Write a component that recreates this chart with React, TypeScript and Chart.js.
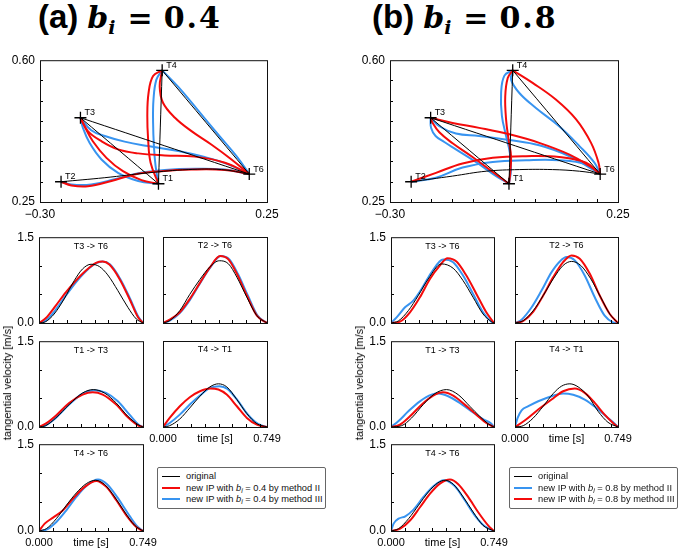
import React, { useEffect, useRef } from 'react';
import { Chart, registerables } from 'chart.js';
Chart.register(...registerables);

type Pt = [number, number];

const FONT = "'Liberation Sans', Arial, Helvetica, sans-serif";
const RED = '#f40b0b';
const BLUE = '#3894f0';
const BLACK = '#000000';

// ---------- target points ----------
const T_LABELS = ['T1', 'T2', 'T3', 'T4', 'T6'];
const T_X = [-0.013, -0.249, -0.202, -0.004, 0.207];
const T_Y = [0.295, 0.3, 0.458, 0.575, 0.319];

// ---------- axis ticks ----------
const TRAJ_X_LABELS = [-0.3, 0.25];
const TRAJ_Y_LABELS = [0.25, 0.6];
const TRAJ_X_MINOR = [-0.25, -0.2, -0.15, -0.1, -0.05, 0, 0.05, 0.1, 0.15, 0.2];
const TRAJ_Y_MINOR = [0.3, 0.35, 0.4, 0.45, 0.5, 0.55];
const VEL_X_LABEL_POS = [0, 0.3745, 0.749];
const VEL_X_LABELS = ['0.000', 'time [s]', '0.749'];
const VEL_Y_LABELS = [0, 1.5];
const VEL_X_MINOR = [0.1, 0.2, 0.3, 0.4, 0.5, 0.6, 0.7];
const VEL_Y_MINOR = [0.5, 1.0];

// ---------- (a) trajectories ----------
const A_T3T6_BLACK: Pt[] = [[-0.202, 0.458], [0.207, 0.319]];
const A_T3T6_BLUE: Pt[] = [[-0.202, 0.458], [-0.176, 0.427], [-0.143, 0.413], [-0.095, 0.399], [-0.038, 0.388], [0.035, 0.376], [0.099, 0.361], [0.156, 0.343], [0.207, 0.319]];
const A_T3T6_RED: Pt[] = [[-0.202, 0.458], [-0.184, 0.425], [-0.151, 0.4], [-0.111, 0.38], [-0.062, 0.37], [0.002, 0.365], [0.075, 0.362], [0.148, 0.347], [0.207, 0.319]];
const A_T2T6_BLACK: Pt[] = [[-0.249, 0.3], [-0.143, 0.31], [-0.038, 0.322], [0.059, 0.33], [0.14, 0.33], [0.207, 0.319]];
const A_T2T6_BLUE: Pt[] = [[-0.249, 0.3], [-0.224, 0.293], [-0.176, 0.293], [-0.119, 0.306], [-0.062, 0.321], [0.002, 0.329], [0.075, 0.332], [0.148, 0.33], [0.207, 0.319]];
const A_T2T6_RED: Pt[] = [[-0.249, 0.3], [-0.224, 0.291], [-0.184, 0.289], [-0.127, 0.302], [-0.071, 0.318], [-0.006, 0.326], [0.067, 0.33], [0.148, 0.329], [0.207, 0.319]];
const A_T1T3_BLACK: Pt[] = [[-0.013, 0.295], [-0.202, 0.458]];
const A_T1T3_BLUE: Pt[] = [[-0.013, 0.295], [-0.062, 0.302], [-0.111, 0.322], [-0.151, 0.355], [-0.18, 0.396], [-0.196, 0.433], [-0.202, 0.458]];
const A_T1T3_RED: Pt[] = [[-0.013, 0.295], [-0.054, 0.304], [-0.099, 0.326], [-0.139, 0.359], [-0.172, 0.4], [-0.192, 0.437], [-0.202, 0.458]];
const A_T4T1_BLACK: Pt[] = [[-0.004, 0.575], [-0.013, 0.295]];
const A_T4T1_BLUE: Pt[] = [[-0.004, 0.575], [-0.018, 0.552], [-0.025, 0.503], [-0.026, 0.446], [-0.024, 0.388], [-0.02, 0.339], [-0.013, 0.295]];
const A_T4T1_RED: Pt[] = [[-0.004, 0.575], [-0.026, 0.561], [-0.037, 0.519], [-0.04, 0.462], [-0.038, 0.404], [-0.032, 0.347], [-0.013, 0.295]];
const A_T4T6_BLACK: Pt[] = [[-0.004, 0.575], [0.207, 0.319]];
const A_T4T6_BLUE: Pt[] = [[-0.004, 0.575], [0.035, 0.534], [0.083, 0.476], [0.132, 0.416], [0.176, 0.363], [0.207, 0.319]];
const A_T4T6_RED: Pt[] = [[-0.004, 0.575], [-0.01, 0.536], [-0.002, 0.495], [0.027, 0.458], [0.067, 0.425], [0.115, 0.392], [0.164, 0.355], [0.207, 0.319]];

// ---------- (b) trajectories ----------
const B_T3T6_BLACK: Pt[] = [[-0.202, 0.458], [0.207, 0.319]];
const B_T3T6_RED: Pt[] = [[-0.202, 0.458], [-0.149, 0.445], [-0.085, 0.433], [-0.012, 0.417], [0.06, 0.396], [0.133, 0.367], [0.181, 0.339], [0.207, 0.319]];
const B_T3T6_BLUE: Pt[] = [[-0.202, 0.458], [-0.181, 0.437], [-0.141, 0.419], [-0.085, 0.413], [-0.012, 0.403], [0.06, 0.39], [0.133, 0.363], [0.181, 0.335], [0.207, 0.319]];
const B_T2T6_BLACK: Pt[] = [[-0.249, 0.3], [-0.149, 0.314], [-0.068, 0.326], [0.012, 0.33], [0.092, 0.33], [0.157, 0.326], [0.207, 0.319]];
const B_T2T6_RED: Pt[] = [[-0.249, 0.3], [-0.189, 0.322], [-0.125, 0.345], [-0.052, 0.359], [0.028, 0.363], [0.108, 0.361], [0.173, 0.347], [0.207, 0.319]];
const B_T2T6_BLUE: Pt[] = [[-0.249, 0.3], [-0.189, 0.31], [-0.125, 0.335], [-0.052, 0.349], [0.028, 0.353], [0.108, 0.353], [0.173, 0.343], [0.207, 0.319]];
const B_T1T3_BLACK: Pt[] = [[-0.013, 0.295], [-0.202, 0.458]];
const B_T1T3_RED: Pt[] = [[-0.013, 0.295], [-0.052, 0.324], [-0.101, 0.361], [-0.149, 0.395], [-0.181, 0.422], [-0.197, 0.445], [-0.202, 0.458]];
const B_T1T3_BLUE: Pt[] = [[-0.013, 0.295], [-0.044, 0.314], [-0.093, 0.349], [-0.141, 0.38], [-0.169, 0.398], [-0.19, 0.413], [-0.201, 0.433], [-0.202, 0.458]];
const B_T4T1_BLACK: Pt[] = [[-0.004, 0.575], [-0.013, 0.295]];
const B_T4T1_BLUE: Pt[] = [[-0.004, 0.575], [-0.024, 0.562], [-0.032, 0.519], [-0.03, 0.462], [-0.02, 0.413], [-0.011, 0.372], [-0.008, 0.33], [-0.013, 0.295]];
const B_T4T1_RED: Pt[] = [[-0.004, 0.575], [-0.016, 0.556], [-0.022, 0.511], [-0.02, 0.454], [-0.014, 0.404], [-0.008, 0.363], [-0.01, 0.322], [-0.013, 0.295]];
const B_T4T6_BLACK: Pt[] = [[-0.004, 0.575], [0.207, 0.319]];
const B_T4T6_RED: Pt[] = [[-0.004, 0.575], [0.044, 0.544], [0.1, 0.503], [0.149, 0.454], [0.185, 0.396], [0.203, 0.347], [0.207, 0.319]];
const B_T4T6_BLUE: Pt[] = [[-0.004, 0.575], [-0.008, 0.552], [0.012, 0.519], [0.052, 0.482], [0.108, 0.437], [0.157, 0.388], [0.193, 0.347], [0.207, 0.319]];

// ---------- (a) tangential velocity [t, v] ----------
const VA_T3T6_BLACK: Pt[] = [[0, 0], [0.048, 0.023], [0.109, 0.157], [0.181, 0.42], [0.254, 0.741], [0.314, 0.946], [0.375, 1.027], [0.435, 0.987], [0.495, 0.841], [0.568, 0.566], [0.64, 0.274], [0.701, 0.07], [0.749, 0]];
const VA_T3T6_RED: Pt[] = [[0, 0], [0.048, 0.082], [0.121, 0.304], [0.193, 0.537], [0.266, 0.741], [0.338, 0.916], [0.411, 1.051], [0.459, 1.074], [0.507, 1.021], [0.58, 0.771], [0.652, 0.42], [0.713, 0.099], [0.749, 0]];
const VA_T3T6_BLUE: Pt[] = [[0, 0], [0.048, 0.041], [0.121, 0.233], [0.193, 0.479], [0.266, 0.712], [0.338, 0.905], [0.411, 1.045], [0.459, 1.074], [0.512, 1.021], [0.585, 0.771], [0.657, 0.42], [0.718, 0.099], [0.749, 0]];
const VA_T2T6_BLACK: Pt[] = [[0, 0], [0.048, 0.041], [0.121, 0.216], [0.193, 0.5], [0.266, 0.76], [0.338, 0.98], [0.406, 1.086], [0.471, 1.033], [0.532, 0.8], [0.604, 0.449], [0.676, 0.128], [0.749, 0]];
const VA_T2T6_RED: Pt[] = [[0, 0], [0.048, 0.058], [0.121, 0.187], [0.193, 0.42], [0.266, 0.7], [0.338, 0.97], [0.411, 1.167], [0.471, 1.109], [0.532, 0.858], [0.604, 0.479], [0.676, 0.128], [0.749, 0]];
const VA_T2T6_BLUE: Pt[] = [[0, 0], [0.048, 0.041], [0.121, 0.175], [0.193, 0.4], [0.266, 0.69], [0.338, 0.96], [0.415, 1.167], [0.478, 1.109], [0.539, 0.858], [0.611, 0.479], [0.681, 0.128], [0.749, 0]];
const VA_T1T3_BLACK: Pt[] = [[0, 0], [0.048, 0.023], [0.121, 0.158], [0.217, 0.391], [0.314, 0.595], [0.391, 0.654], [0.471, 0.595], [0.556, 0.42], [0.64, 0.187], [0.713, 0.041], [0.749, 0]];
const VA_T1T3_RED: Pt[] = [[0, 0], [0.048, 0.058], [0.121, 0.198], [0.217, 0.42], [0.314, 0.566], [0.387, 0.607], [0.459, 0.566], [0.556, 0.391], [0.64, 0.169], [0.713, 0.029], [0.749, 0]];
const VA_T1T3_BLUE: Pt[] = [[0, 0], [0.048, 0.029], [0.121, 0.158], [0.217, 0.391], [0.314, 0.584], [0.399, 0.642], [0.483, 0.595], [0.568, 0.449], [0.652, 0.216], [0.718, 0.041], [0.749, 0]];
const VA_T4T1_BLACK: Pt[] = [[0, 0], [0.048, 0.023], [0.121, 0.14], [0.193, 0.333], [0.266, 0.537], [0.338, 0.7], [0.399, 0.753], [0.459, 0.7], [0.532, 0.479], [0.604, 0.233], [0.676, 0.058], [0.749, 0]];
const VA_T4T1_RED: Pt[] = [[0, 0], [0.048, 0.158], [0.121, 0.362], [0.193, 0.519], [0.266, 0.624], [0.338, 0.671], [0.399, 0.654], [0.459, 0.566], [0.532, 0.362], [0.604, 0.158], [0.676, 0.041], [0.749, 0]];
const VA_T4T1_BLUE: Pt[] = [[0, 0], [0.048, 0.07], [0.121, 0.216], [0.193, 0.391], [0.266, 0.549], [0.338, 0.683], [0.406, 0.712], [0.464, 0.665], [0.536, 0.467], [0.609, 0.222], [0.681, 0.058], [0.749, 0]];
const VA_T4T6_BLACK: Pt[] = [[0, 0], [0.053, 0.04], [0.125, 0.213], [0.197, 0.444], [0.269, 0.658], [0.341, 0.819], [0.408, 0.877], [0.473, 0.802], [0.545, 0.589], [0.617, 0.329], [0.689, 0.098], [0.749, 0]];
const VA_T4T6_RED: Pt[] = [[0, 0], [0.041, 0.127], [0.101, 0.231], [0.173, 0.358], [0.245, 0.56], [0.329, 0.762], [0.413, 0.866], [0.485, 0.762], [0.557, 0.531], [0.629, 0.271], [0.701, 0.069], [0.749, 0]];
const VA_T4T6_BLUE: Pt[] = [[0, 0], [0.053, 0.023], [0.125, 0.156], [0.197, 0.358], [0.269, 0.589], [0.346, 0.79], [0.425, 0.889], [0.49, 0.808], [0.562, 0.589], [0.634, 0.329], [0.701, 0.098], [0.749, 0]];

// ---------- (b) tangential velocity [t, v] ----------
const VB_T3T6_BLACK: Pt[] = [[0, 0], [0.053, 0.035], [0.126, 0.216], [0.198, 0.479], [0.271, 0.77], [0.367, 1.033], [0.452, 0.957], [0.524, 0.741], [0.597, 0.449], [0.669, 0.158], [0.73, 0.023], [0.749, 0]];
const VB_T3T6_BLUE: Pt[] = [[0, 0], [0.041, 0.099], [0.102, 0.274], [0.162, 0.391], [0.222, 0.595], [0.295, 0.887], [0.379, 1.109], [0.452, 1.062], [0.524, 0.829], [0.597, 0.508], [0.669, 0.187], [0.73, 0.023], [0.749, 0]];
const VB_T3T6_RED: Pt[] = [[0, 0], [0.065, 0.023], [0.138, 0.187], [0.21, 0.449], [0.283, 0.77], [0.355, 1.004], [0.411, 1.132], [0.476, 1.074], [0.548, 0.829], [0.621, 0.508], [0.693, 0.187], [0.749, 0]];
const VB_T2T6_BLACK: Pt[] = [[0, 0], [0.06, 0.041], [0.133, 0.216], [0.205, 0.479], [0.278, 0.77], [0.35, 1.004], [0.411, 1.074], [0.478, 1.004], [0.551, 0.77], [0.623, 0.449], [0.689, 0.158], [0.749, 0]];
const VB_T2T6_BLUE: Pt[] = [[0, 0], [0.048, 0.058], [0.121, 0.274], [0.193, 0.566], [0.266, 0.887], [0.326, 1.074], [0.375, 1.15], [0.435, 1.092], [0.507, 0.829], [0.58, 0.449], [0.652, 0.128], [0.713, 0.012], [0.749, 0]];
const VB_T2T6_RED: Pt[] = [[0, 0], [0.06, 0.035], [0.133, 0.198], [0.205, 0.479], [0.278, 0.8], [0.35, 1.062], [0.411, 1.179], [0.471, 1.121], [0.544, 0.858], [0.616, 0.479], [0.689, 0.158], [0.749, 0]];
const VB_T1T3_BLACK: Pt[] = [[0, 0], [0.077, 0.023], [0.15, 0.158], [0.234, 0.391], [0.319, 0.584], [0.404, 0.654], [0.488, 0.566], [0.573, 0.362], [0.645, 0.187], [0.706, 0.058], [0.749, 0]];
const VB_T1T3_BLUE: Pt[] = [[0, 0], [0.053, 0.099], [0.126, 0.274], [0.21, 0.449], [0.295, 0.566], [0.343, 0.584], [0.416, 0.537], [0.5, 0.42], [0.585, 0.274], [0.669, 0.14], [0.73, 0.058], [0.749, 0]];
const VB_T1T3_RED: Pt[] = [[0, 0], [0.065, 0.041], [0.138, 0.187], [0.222, 0.391], [0.307, 0.549], [0.379, 0.607], [0.452, 0.549], [0.536, 0.391], [0.621, 0.216], [0.693, 0.07], [0.749, 0]];
const VB_T4T1_BLACK: Pt[] = [[0, 0], [0.06, 0.023], [0.133, 0.158], [0.205, 0.362], [0.278, 0.584], [0.338, 0.712], [0.399, 0.753], [0.459, 0.7], [0.532, 0.537], [0.604, 0.274], [0.676, 0.082], [0.749, 0]];
const VB_T4T1_BLUE: Pt[] = [[0, 0], [0.019, 0.158], [0.048, 0.292], [0.097, 0.362], [0.169, 0.449], [0.266, 0.537], [0.35, 0.584], [0.423, 0.561], [0.507, 0.479], [0.592, 0.333], [0.676, 0.158], [0.725, 0.058], [0.749, 0]];
const VB_T4T1_RED: Pt[] = [[0, 0], [0.073, 0.117], [0.169, 0.304], [0.266, 0.479], [0.35, 0.624], [0.435, 0.671], [0.507, 0.595], [0.58, 0.42], [0.652, 0.216], [0.713, 0.07], [0.749, 0]];
const VB_T4T6_BLACK: Pt[] = [[0, 0], [0.055, 0.04], [0.128, 0.213], [0.2, 0.444], [0.272, 0.675], [0.34, 0.831], [0.393, 0.877], [0.453, 0.808], [0.525, 0.589], [0.597, 0.329], [0.669, 0.098], [0.749, 0]];
const VB_T4T6_BLUE: Pt[] = [[0, 0], [0.019, 0.127], [0.055, 0.213], [0.104, 0.254], [0.164, 0.369], [0.236, 0.588], [0.308, 0.773], [0.385, 0.877], [0.465, 0.773], [0.537, 0.531], [0.609, 0.271], [0.682, 0.081], [0.749, 0]];
const VB_T4T6_RED: Pt[] = [[0, 0], [0.067, 0.04], [0.14, 0.185], [0.212, 0.415], [0.284, 0.646], [0.356, 0.819], [0.429, 0.889], [0.489, 0.808], [0.561, 0.589], [0.633, 0.329], [0.706, 0.098], [0.749, 0]];

interface PanelSpec {
  box: [number, number, number, number];
  kind: 'traj' | 'vel';
  title?: string;
  black: Pt[][];
  red: Pt[][];
  blue: Pt[][];
  showX?: boolean;
  showY?: boolean;
}

const PAD_L = 44, PAD_T = 12, PAD_R = 24, PAD_B = 24;

function makeDecor(spec: PanelSpec) {
  return {
    id: 'decor',
    afterDatasetsDraw(chart: any) {
      const { ctx, chartArea: a, scales } = chart;
      const xs = scales.x, ys = scales.y;
      const isTraj = spec.kind === 'traj';
      const xm = isTraj ? TRAJ_X_MINOR : VEL_X_MINOR;
      const ym = isTraj ? TRAJ_Y_MINOR : VEL_Y_MINOR;
      ctx.save();
      ctx.strokeStyle = '#000';
      ctx.lineWidth = 1;
      ctx.beginPath();
      xm.forEach((v) => {
        const px = Math.round(xs.getPixelForValue(v)) + 0.5;
        ctx.moveTo(px, a.bottom);
        ctx.lineTo(px, a.bottom - 3);
      });
      ym.forEach((v) => {
        const py = Math.round(ys.getPixelForValue(v)) + 0.5;
        ctx.moveTo(a.left, py);
        ctx.lineTo(a.left + 3, py);
      });
      ctx.stroke();
      ctx.strokeStyle = '#111';
      ctx.strokeRect(a.left + 0.5, a.top + 0.5, a.right - a.left, a.bottom - a.top);
      ctx.fillStyle = '#000';
      if (spec.title) {
        ctx.font = `9px ${FONT}`;
        ctx.textAlign = 'center';
        ctx.textBaseline = 'middle';
        ctx.fillText(spec.title, (a.left + a.right) / 2, a.top + 9);
      }
      if (isTraj) {
        ctx.font = `9px ${FONT}`;
        ctx.textAlign = 'left';
        ctx.textBaseline = 'middle';
        T_LABELS.forEach((lab, i) => {
          ctx.fillText(lab, xs.getPixelForValue(T_X[i]) + 4, ys.getPixelForValue(T_Y[i]) - 5);
        });
      }
      ctx.restore();
    },
  };
}

function PlotPanel({ spec }: { spec: PanelSpec }) {
  const ref = useRef<HTMLCanvasElement>(null);
  const [l, t, r, b] = spec.box;
  const w = r - l, h = b - t;
  useEffect(() => {
    const isTraj = spec.kind === 'traj';
    const mk = (pts: Pt[], color: string, width: number) => ({
      data: pts.map(([x, y]) => ({ x, y })),
      borderColor: color,
      backgroundColor: color,
      borderWidth: width,
      pointRadius: 0,
      showLine: true,
      fill: false,
      tension: 0.4,
      cubicInterpolationMode: isTraj ? 'default' : 'monotone',
    });
    const datasets: any[] = [];
    if (isTraj) {
      datasets.push({
        data: T_X.map((x, i) => ({ x, y: T_Y[i] })),
        pointStyle: 'cross',
        pointRadius: 6,
        borderColor: '#000',
        borderWidth: 1.3,
        showLine: false,
      });
    }
    spec.black.forEach((p) => datasets.push(mk(p, BLACK, 1)));
    spec.red.forEach((p) => datasets.push(mk(p, RED, 2)));
    spec.blue.forEach((p) => datasets.push(mk(p, BLUE, 2)));

    const xLabelVals = isTraj ? TRAJ_X_LABELS : VEL_X_LABEL_POS;
    const yLabelVals = isTraj ? TRAJ_Y_LABELS : VEL_Y_LABELS;
    const chart = new Chart(ref.current as HTMLCanvasElement, {
      type: 'scatter',
      data: { datasets },
      options: {
        animation: false,
        responsive: false,
        maintainAspectRatio: false,
        events: [],
        layout: { padding: { left: 0, top: PAD_T, right: PAD_R, bottom: 0 } },
        plugins: { legend: { display: false }, tooltip: { enabled: false } },
        scales: {
          x: {
            type: 'linear',
            bounds: 'data',
            min: isTraj ? -0.3 : 0,
            max: isTraj ? 0.25 : 0.749,
            grid: { display: false, drawTicks: false },
            border: { display: false },
            ticks: {
              display: !!spec.showX,
              autoSkip: false,
              maxRotation: 0,
              padding: 5,
              color: '#000',
              font: { family: FONT, size: isTraj ? 12 : 11 },
              callback: (v: any, i: number) =>
                isTraj ? (v < 0 ? '\u2212' : '') + Math.abs(v).toFixed(2) : VEL_X_LABELS[i],
            },
            afterBuildTicks: (s: any) => {
              s.ticks = xLabelVals.map((v) => ({ value: v }));
            },
            afterFit: (s: any) => {
              s.height = PAD_B;
            },
          } as any,
          y: {
            type: 'linear',
            bounds: 'data',
            min: isTraj ? 0.25 : 0,
            max: isTraj ? 0.6 : 1.5,
            grid: { display: false, drawTicks: false },
            border: { display: false },
            ticks: {
              display: !!spec.showY,
              autoSkip: false,
              padding: 5,
              color: '#000',
              font: { family: FONT, size: 12 },
              callback: (v: any) => (isTraj ? Number(v).toFixed(2) : Number(v).toFixed(1)),
            },
            afterBuildTicks: (s: any) => {
              s.ticks = yLabelVals.map((v) => ({ value: v }));
            },
            afterFit: (s: any) => {
              s.width = PAD_L;
            },
          } as any,
        },
      },
      plugins: [makeDecor(spec)],
    } as any);
    return () => chart.destroy();
  }, []);
  return (
    <canvas
      ref={ref}
      width={w + PAD_L + PAD_R}
      height={h + PAD_T + PAD_B}
      style={{ position: 'absolute', left: l - PAD_L, top: t - PAD_T }}
    />
  );
}

const BI = (v: string) => (
  <>
    <i>b</i>
    <sub style={{ fontSize: '0.75em', fontStyle: 'italic', verticalAlign: '-0.3em', lineHeight: 0 }}>i</sub>
    {' = ' + v}
  </>
);

function Legend({ left, val, second, third }: { left: number; val: string; second: string; third: string }) {
  const rows: [string, number, React.ReactNode][] = [
    [BLACK, 1, 'original'],
    [second, 2, <>new IP with {BI(val)} by method II</>],
    [third, 2, <>new IP with {BI(val)} by method III</>],
  ];
  return (
    <div
      style={{
        position: 'absolute',
        left,
        top: 467,
        width: 169,
        height: 42,
        boxSizing: 'border-box',
        border: '1px solid #666',
        borderRadius: 2,
        background: '#fff',
        font: `9.3px ${FONT}`,
        color: '#111',
      }}
    >
      {rows.map(([c, lw, txt], i) => (
        <div key={i} style={{ position: 'absolute', left: 0, top: 2 + i * 11.6, height: 12, width: 166 }}>
          <div style={{ position: 'absolute', left: 4, top: 6 - lw / 2, width: 18, height: lw, background: c }} />
          <div style={{ position: 'absolute', left: 28, top: 0, lineHeight: '12px', whiteSpace: 'nowrap' }}>{txt}</div>
        </div>
      ))}
    </div>
  );
}

function Title({ left, tag, val }: { left: number; tag: string; val: string }) {
  return (
    <div style={{ position: 'absolute', left, top: -2, whiteSpace: 'nowrap', lineHeight: '38px', color: '#000' }}>
      <span style={{ font: `bold 33px ${FONT}` }}>{tag}</span>
      <span style={{ font: "italic bold 30px 'DejaVu Serif'", marginLeft: 9 }}>b</span>
      <span style={{ font: "italic bold 19px 'DejaVu Serif'", position: 'relative', top: 6 }}>i</span>
      <span style={{ font: "bold 30px 'DejaVu Serif'", marginLeft: 12 }}>=</span>
      <span style={{ font: "bold 30px 'DejaVu Serif'", marginLeft: 11, letterSpacing: 2 }}>{val}</span>
    </div>
  );
}

function YLabel({ x }: { x: number }) {
  return (
    <div
      style={{
        position: 'absolute',
        left: x,
        top: 383,
        transform: 'translate(-50%, -50%) rotate(-90deg)',
        font: `11px ${FONT}`,
        whiteSpace: 'nowrap',
        color: '#000',
      }}
    >
      tangential velocity [m/s]
    </div>
  );
}

export default function App() {
  const panels: PanelSpec[] = [
    { box: [40, 60, 267, 202], kind: 'traj', showX: true, showY: true,
      black: [A_T3T6_BLACK, A_T2T6_BLACK, A_T1T3_BLACK, A_T4T1_BLACK, A_T4T6_BLACK],
      red: [A_T3T6_RED, A_T2T6_RED, A_T1T3_RED, A_T4T1_RED, A_T4T6_RED],
      blue: [A_T3T6_BLUE, A_T2T6_BLUE, A_T1T3_BLUE, A_T4T1_BLUE, A_T4T6_BLUE] },
    { box: [390, 60, 618, 202], kind: 'traj', showX: true, showY: true,
      black: [B_T3T6_BLACK, B_T2T6_BLACK, B_T1T3_BLACK, B_T4T1_BLACK, B_T4T6_BLACK],
      red: [B_T3T6_RED, B_T2T6_RED, B_T1T3_RED, B_T4T1_RED, B_T4T6_RED],
      blue: [B_T3T6_BLUE, B_T2T6_BLUE, B_T1T3_BLUE, B_T4T1_BLUE, B_T4T6_BLUE] },
    { box: [39, 237, 143, 323], kind: 'vel', title: 'T3 -> T6', showY: true, black: [VA_T3T6_BLACK], red: [VA_T3T6_RED], blue: [VA_T3T6_BLUE] },
    { box: [163, 237, 267, 323], kind: 'vel', title: 'T2 -> T6', black: [VA_T2T6_BLACK], red: [VA_T2T6_RED], blue: [VA_T2T6_BLUE] },
    { box: [39, 341, 143, 427], kind: 'vel', title: 'T1 -> T3', showY: true, black: [VA_T1T3_BLACK], red: [VA_T1T3_RED], blue: [VA_T1T3_BLUE] },
    { box: [163, 341, 267, 427], kind: 'vel', title: 'T4 -> T1', showX: true, black: [VA_T4T1_BLACK], red: [VA_T4T1_RED], blue: [VA_T4T1_BLUE] },
    { box: [39, 444, 143, 531], kind: 'vel', title: 'T4 -> T6', showX: true, showY: true, black: [VA_T4T6_BLACK], red: [VA_T4T6_RED], blue: [VA_T4T6_BLUE] },
    { box: [391, 237, 494, 323], kind: 'vel', title: 'T3 -> T6', showY: true, black: [VB_T3T6_BLACK], red: [VB_T3T6_RED], blue: [VB_T3T6_BLUE] },
    { box: [515, 237, 618, 323], kind: 'vel', title: 'T2 -> T6', black: [VB_T2T6_BLACK], red: [VB_T2T6_RED], blue: [VB_T2T6_BLUE] },
    { box: [391, 341, 494, 427], kind: 'vel', title: 'T1 -> T3', showY: true, black: [VB_T1T3_BLACK], red: [VB_T1T3_RED], blue: [VB_T1T3_BLUE] },
    { box: [515, 341, 618, 427], kind: 'vel', title: 'T4 -> T1', showX: true, black: [VB_T4T1_BLACK], red: [VB_T4T1_RED], blue: [VB_T4T1_BLUE] },
    { box: [391, 444, 494, 531], kind: 'vel', title: 'T4 -> T6', showX: true, showY: true, black: [VB_T4T6_BLACK], red: [VB_T4T6_RED], blue: [VB_T4T6_BLUE] },
  ];
  return (
    <div style={{ position: 'fixed', left: 0, top: 0, width: 685, height: 559, background: '#fff', overflow: 'hidden' }}>
      {panels.map((p, i) => (
        <PlotPanel key={i} spec={p} />
      ))}
      <Title left={38} tag="(a)" val="0.4" />
      <Title left={372} tag="(b)" val="0.8" />
      <YLabel x={7} />
      <YLabel x={359} />
      <Legend left={157} val="0.4" second={RED} third={BLUE} />
      <Legend left={509} val="0.8" second={BLUE} third={RED} />
    </div>
  );
}
